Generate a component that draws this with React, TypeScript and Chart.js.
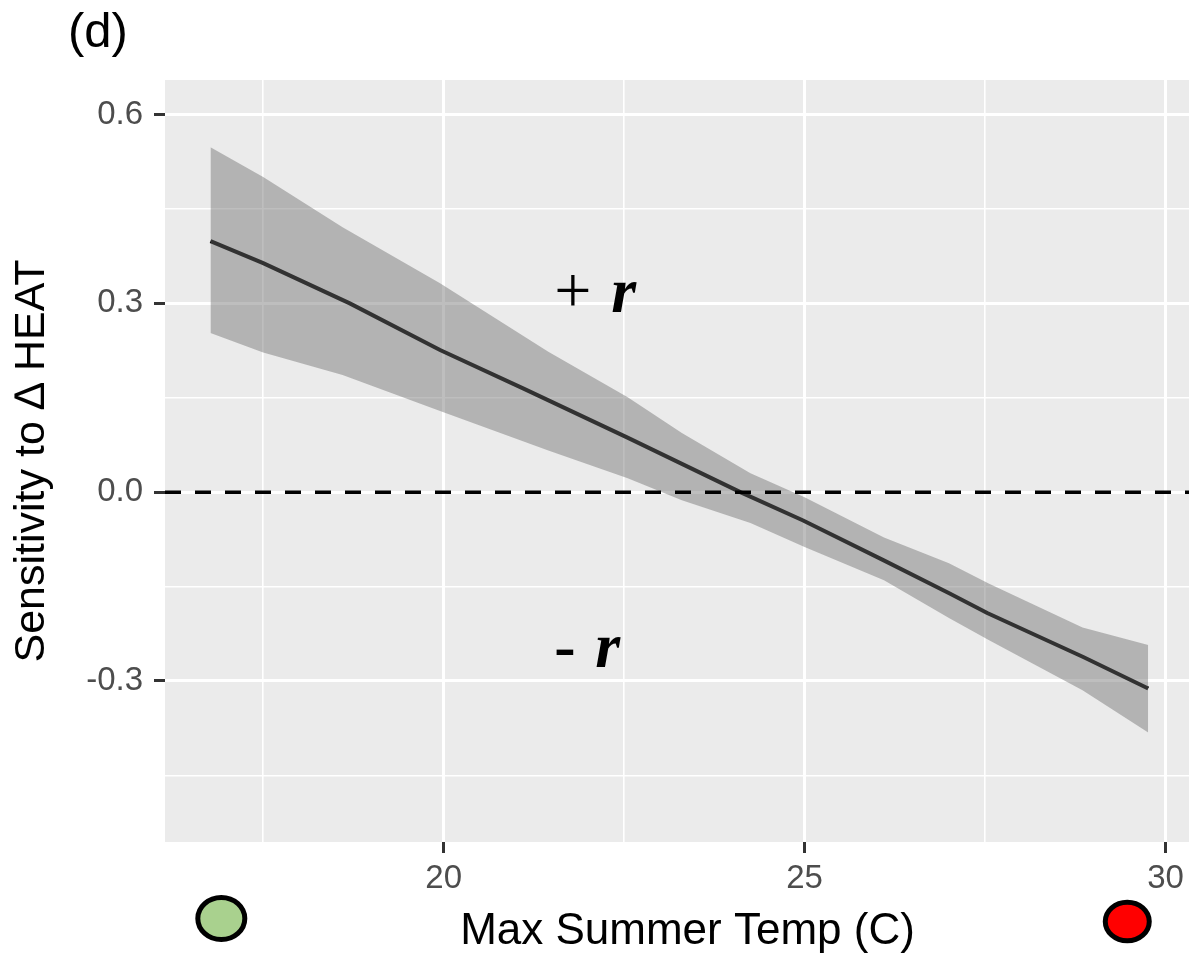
import React, { useEffect, useRef } from "react";
import { Chart, registerables } from "chart.js";

Chart.register(...registerables);

// ---- data ----
const lineX = [16.77, 17.5, 18.7, 19.95, 21.1, 22.54, 24.11, 24.98, 26.09, 27.01, 27.53, 28.86, 29.76];
const lineY = [0.399, 0.364, 0.3, 0.226, 0.165, 0.087, 0.0, -0.045, -0.108, -0.161, -0.192, -0.262, -0.312];

const ribbonX = [16.77, 17.5, 18.6, 19.95, 21.45, 22.55, 23.3, 24.25, 25.0, 26.1, 27.0, 27.55, 28.85, 29.76];
const ribbonUpper = [0.548, 0.501, 0.421, 0.332, 0.223, 0.151, 0.094, 0.03, -0.008, -0.072, -0.113, -0.145, -0.215, -0.243];
const ribbonLower = [0.253, 0.222, 0.186, 0.129, 0.066, 0.022, -0.013, -0.049, -0.087, -0.14, -0.2, -0.235, -0.315, -0.382];

const xMajorTicks = [20, 25, 30];
const xMinorTicks = [17.5, 22.5, 27.5];
const yMajorTicks = [-0.3, 0.0, 0.3, 0.6];
const yMinorTicks = [-0.45, -0.15, 0.15, 0.45];

const xTitle = "Max Summer Temp (C)";
const yTitle = "Sensitivity to \u2206 HEAT";
const panelLabel = "(d)";

const annoSigns = ["+", "-"];
const annoX = [21.56, 21.56];
const annoY = [0.286, -0.278];

const markerX = [16.92, 29.47];
const markerFill = ["#a9d18e", "#ff0000"];

const isIn = (arr: number[], v: number) => arr.some((a) => Math.abs(a - v) < 1e-6);

const decorPlugin = {
  id: "decor",
  beforeDraw(chart: any) {
    const { ctx, chartArea } = chart;
    ctx.save();
    ctx.fillStyle = "#ebebeb";
    ctx.fillRect(chartArea.left, chartArea.top, chartArea.right - chartArea.left, chartArea.bottom - chartArea.top);
    ctx.restore();
  },
  afterDatasetsDraw(chart: any) {
    const { ctx, chartArea } = chart;
    const y0 = chart.scales.y.getPixelForValue(0);
    ctx.save();
    ctx.strokeStyle = "#000";
    ctx.lineWidth = 3.5;
    ctx.setLineDash([16, 14]);
    ctx.beginPath();
    ctx.moveTo(chartArea.left, y0);
    ctx.lineTo(chartArea.right, y0);
    ctx.stroke();
    ctx.restore();
  },
  afterDraw(chart: any) {
    const { ctx, chartArea } = chart;
    const xs = chart.scales.x;
    const ys = chart.scales.y;
    ctx.save();
    // panel tag
    ctx.fillStyle = "#000";
    ctx.font = "49px 'Liberation Sans'";
    ctx.textBaseline = "alphabetic";
    ctx.textAlign = "left";
    ctx.fillText(panelLabel, 68, 47);

    // +r / -r annotations
    annoSigns.forEach((s, i) => {
      const px = xs.getPixelForValue(annoX[i]);
      const py = ys.getPixelForValue(annoY[i]);
      ctx.font = s === "+" ? "66px 'Liberation Serif'" : "bold 64px 'Liberation Serif'";
      ctx.fillText(s, px - 2, py);
      ctx.font = "bold italic 64px 'Liberation Serif'";
      ctx.fillText("r", px + (s === "+" ? 55 : 39), py);
    });

    // coloured markers under the x axis
    const my = [chartArea.bottom + 76.5, chartArea.bottom + 79.5];
    const rx = [23.5, 22];
    const ry = [21, 19.3];
    markerX.forEach((mx, i) => {
      const cx = xs.getPixelForValue(mx);
      ctx.beginPath();
      ctx.ellipse(cx, my[i], rx[i], ry[i], 0, 0, Math.PI * 2);
      ctx.fillStyle = markerFill[i];
      ctx.fill();
      ctx.lineWidth = 5;
      ctx.strokeStyle = "#000";
      ctx.stroke();
    });
    ctx.restore();
  },
};

export default function App() {
  const ref = useRef<HTMLCanvasElement>(null);

  useEffect(() => {
    const canvas = ref.current;
    if (!canvas) return;
    const chart = new Chart(canvas, {
      type: "line",
      data: {
        datasets: [
          {
            data: ribbonX.map((x, i) => ({ x, y: ribbonUpper[i] })),
            fill: "+1",
            backgroundColor: "rgba(110,110,110,0.45)",
            borderColor: "rgba(0,0,0,0)",
            borderWidth: 0,
            pointRadius: 0,
            tension: 0,
          },
          {
            data: ribbonX.map((x, i) => ({ x, y: ribbonLower[i] })),
            fill: false,
            borderColor: "rgba(0,0,0,0)",
            borderWidth: 0,
            pointRadius: 0,
            tension: 0,
          },
          {
            data: lineX.map((x, i) => ({ x, y: lineY[i] })),
            fill: false,
            borderColor: "#000000",
            borderWidth: 4,
            pointRadius: 0,
            tension: 0,
          },
        ],
      },
      options: {
        responsive: false,
        animation: false,
        devicePixelRatio: 1,
        layout: { padding: { top: 80, left: 0, right: 0, bottom: 0 } },
        plugins: {
          legend: { display: false },
          tooltip: { enabled: false },
          title: { display: false },
        },
        scales: {
          x: {
            type: "linear",
            min: 16.14,
            max: 30.616,
            afterBuildTicks: (s: any) => {
              s.ticks = [...xMinorTicks, ...xMajorTicks].sort((a, b) => a - b).map((v) => ({ value: v }));
            },
            afterFit: (s: any) => {
              s.height = 116;
            },
            ticks: {
              autoSkip: false,
              maxRotation: 0,
              padding: 6,
              color: "#4d4d4d",
              font: { family: "'Liberation Sans'", size: 33 },
              callback: (v: any) => (isIn(xMajorTicks, Number(v)) ? String(Math.round(Number(v))) : ""),
            },
            grid: {
              color: "#ffffff",
              lineWidth: (c: any) => (c.tick && isIn(xMajorTicks, c.tick.value) ? 3 : 1.6),
              tickColor: (c: any) => (c.tick && isIn(xMajorTicks, c.tick.value) ? "#333333" : "rgba(0,0,0,0)"),
              tickLength: 11,
              tickWidth: 3,
            },
            border: { display: false },
            title: {
              display: true,
              text: xTitle,
              color: "#000",
              font: { family: "'Liberation Sans'", size: 44 },
              padding: { top: 0, bottom: 0 },
            },
          },
          y: {
            type: "linear",
            min: -0.556,
            max: 0.655,
            afterBuildTicks: (s: any) => {
              s.ticks = [...yMinorTicks, ...yMajorTicks].sort((a, b) => a - b).map((v) => ({ value: v }));
            },
            afterFit: (s: any) => {
              s.width = 165;
            },
            ticks: {
              autoSkip: false,
              padding: 11,
              color: "#4d4d4d",
              font: { family: "'Liberation Sans'", size: 33 },
              callback: (v: any) => (isIn(yMajorTicks, Number(v)) ? Number(v).toFixed(1) : ""),
            },
            grid: {
              color: "#ffffff",
              lineWidth: (c: any) => (c.tick && isIn(yMajorTicks, c.tick.value) ? 3 : 1.6),
              tickColor: (c: any) => (c.tick && isIn(yMajorTicks, c.tick.value) ? "#333333" : "rgba(0,0,0,0)"),
              tickLength: 11,
              tickWidth: 3,
            },
            border: { display: false },
            title: {
              display: true,
              text: yTitle,
              color: "#000",
              font: { family: "'Liberation Sans'", size: 43 },
              padding: { top: 6, bottom: 0 },
            },
          },
        },
      } as any,
      plugins: [decorPlugin],
    });
    return () => chart.destroy();
  }, []);

  return (
    <div
      style={{
        position: "fixed",
        left: 0,
        top: 0,
        width: 1189,
        height: 958,
        overflow: "hidden",
        background: "#ffffff",
      }}
    >
      <canvas ref={ref} width={1210} height={958} style={{ width: 1210, height: 958, display: "block" }} />
    </div>
  );
}
